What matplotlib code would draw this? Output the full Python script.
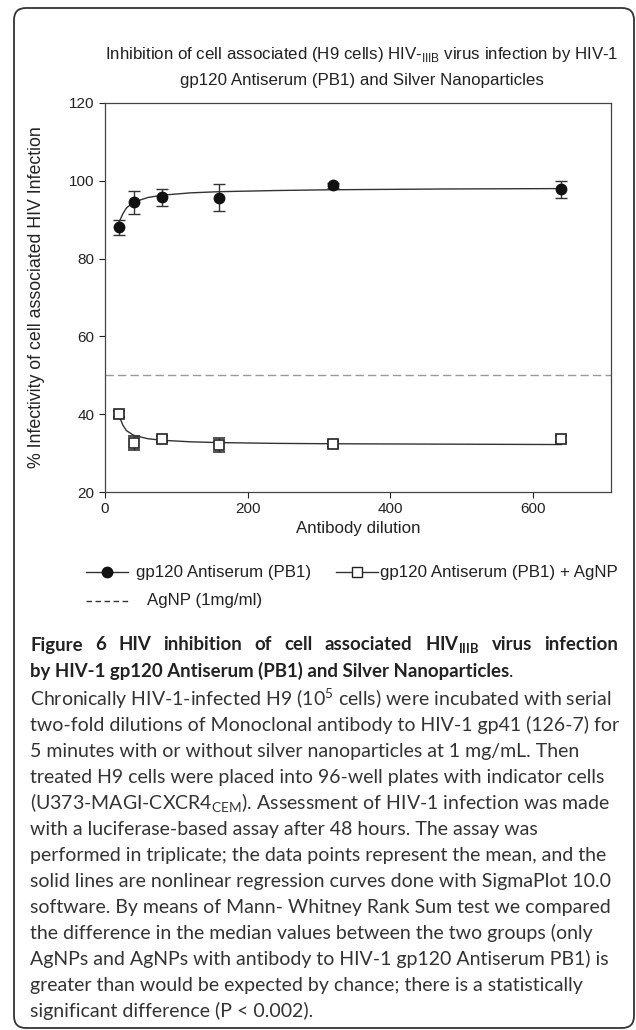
import matplotlib
matplotlib.use("Agg")
import matplotlib.pyplot as plt
from matplotlib.patches import FancyBboxPatch
from matplotlib.lines import Line2D

# data
dilution = [20, 40, 80, 160, 320, 640]
pb1 = [88.0, 94.5, 95.8, 95.7, 98.8, 97.8]
pb1_err = [2.0, 3.0, 2.2, 3.5, 0.7, 2.2]
pb1_agnp = [40.0, 32.6, 33.7, 32.0, 32.3, 33.7]
pb1_agnp_err = [0.8, 1.8, 0.8, 1.8, 0.8, 0.8]
agnp_level = 50

# regression curves
fit_x = [20, 25, 30, 40, 60, 80, 120, 160, 240, 320, 480, 640]
fit_pb1 = [89.5, 91.5, 93.0, 94.5, 95.7, 96.3, 96.9, 97.2, 97.5, 97.7, 97.9, 98.0]
fit_agnp = [39.5, 37.2, 35.8, 34.6, 33.7, 33.3, 32.9, 32.7, 32.5, 32.4, 32.3, 32.2]

legend_labels = ['gp120 Antiserum (PB1)', 'gp120 Antiserum (PB1) + AgNP', 'AgNP (1mg/ml)']

plt.rcParams['font.family'] = ['Liberation Sans', 'DejaVu Sans']

W, H = 636, 1030
fig = plt.figure(figsize=(W / 100, H / 100), dpi=100)

def fx(x):
    return x / W

def fy(y):
    return 1 - y / H

# frame around the whole figure
box = FancyBboxPatch((0.14, 0.02), 6.20, 10.20, boxstyle="round,pad=0,rounding_size=0.12",
                     transform=fig.dpi_scale_trans, fill=False, edgecolor='#333333', lw=1.3)
fig.patches.append(box)

ax = fig.add_axes([fx(105), fy(492), fx(611) - fx(105), (492 - 103) / H])
ax.plot(fit_x, fit_pb1, color='#333333', lw=1.0)
ax.plot(fit_x, fit_agnp, color='#333333', lw=1.0)
ax.errorbar(dilution, pb1, yerr=pb1_err, fmt='o', color='#111111', ms=7.5,
            ecolor='#333333', elinewidth=1, capsize=4, capthick=1)
ax.errorbar(dilution, pb1_agnp, yerr=pb1_agnp_err, fmt='s', mfc='white', mec='#222222',
            mew=1.2, ms=6.5, ecolor='#333333', elinewidth=1, capsize=4, capthick=1)
ax.axhline(agnp_level, color='#999999', lw=1, ls=(0, (6, 3)))

ax.set_xlim(0, 710)
ax.set_ylim(20, 120)
ax.set_xticks([0, 200, 400, 600])
ax.set_yticks([20, 40, 60, 80, 100, 120])
ax.tick_params(direction='out', length=4, labelsize=11, colors='#222222')
for s in ax.spines.values():
    s.set_color('#444444')
    s.set_linewidth(0.9)
ax.set_xlabel('Antibody dilution', fontsize=12.2, color='#222222')
ax.xaxis.set_label_coords(0.5, -0.075)
ax.set_ylabel('% Infectivity of cell associated HIV Infection', fontsize=12.8, color='#222222')
ax.yaxis.set_label_coords(-0.119, 0.5)

fig.text(fx(362), fy(55), r'Inhibition of cell associated (H9 cells) HIV-$_{\mathregular{IIIB}}$ virus infection by HIV-1',
         ha='center', va='center', fontsize=12.2, color='#222222')
fig.text(fx(362), fy(81), 'gp120 Antiserum (PB1) and Silver Nanoparticles',
         ha='center', va='center', fontsize=12.2, color='#222222')

# legend, drawn by hand to follow the original spacing
def handle(x0, x1, y, **kw):
    ln = Line2D([fx(x0), fx((x0 + x1) / 2), fx(x1)], [fy(y)] * 3, transform=fig.transFigure,
                markevery=[1], **kw)
    fig.add_artist(ln)

handle(86, 128, 572, color='#333333', lw=1, marker='o', mfc='#111111', mec='#111111', ms=7.5)
fig.text(fx(136), fy(572), legend_labels[0], va='center', fontsize=12.2, color='#222222')
handle(336, 378, 572, color='#333333', lw=1, marker='s', mfc='white', mec='#222222', ms=6.5)
fig.text(fx(380), fy(572), legend_labels[1], va='center', fontsize=12.2, color='#222222')
handle(86, 128, 601, color='#333333', lw=1, ls=(0, (4, 2.5)))
fig.text(fx(147), fy(601), legend_labels[2], va='center', fontsize=12.2, color='#222222')

# caption
cap_font = ['Lato', 'DejaVu Sans']
fig.canvas.draw()
rend = fig.canvas.get_renderer()

# first bold line runs out to the right margin
words = ['Figure', '6', 'HIV', 'inhibition', 'of', 'cell', 'associated',
         r'HIV$_{\mathregular{IIIB}}$', 'virus', 'infection']
objs = [fig.text(0, fy(645), w, family=cap_font, weight='bold', fontsize=13.4,
                 va='center', color='#222222') for w in words]
widths = [o.get_window_extent(rend).width for o in objs]
gap = (618 - 30 - sum(widths)) / (len(words) - 1)
xpos = 30
for o, w in zip(objs, widths):
    o.set_x(fx(xpos))
    xpos += w + gap

t2 = fig.text(fx(30), fy(671), 'by HIV-1 gp120 Antiserum (PB1) and Silver Nanoparticles',
              family=cap_font, weight='bold', fontsize=13.4, va='center', color='#222222')
ax.annotate('.', xy=(1, 0), xycoords=t2, va='bottom', ha='left', family=cap_font,
            fontsize=13.4, color='#222222', annotation_clip=False)

body = [
    r'Chronically HIV-1-infected H9 (10$^{\mathregular{5}}$ cells) were incubated with serial',
    'two-fold dilutions of Monoclonal antibody to HIV-1 gp41 (126-7) for',
    '5 minutes with or without silver nanoparticles at 1 mg/mL. Then',
    'treated H9 cells were placed into 96-well plates with indicator cells',
    r'(U373-MAGI-CXCR4$_{\mathregular{CEM}}$). Assessment of HIV-1 infection was made',
    'with a luciferase-based assay after 48 hours. The assay was',
    'performed in triplicate; the data points represent the mean, and the',
    'solid lines are nonlinear regression curves done with SigmaPlot 10.0',
    'software. By means of Mann- Whitney Rank Sum test we compared',
    'the difference in the median values between the two groups (only',
    'AgNPs and AgNPs with antibody to HIV-1 gp120 Antiserum PB1) is',
    'greater than would be expected by chance; there is a statistically',
    'significant difference (P < 0.002).',
]
for i, line in enumerate(body):
    fig.text(fx(30), fy(699 + 26 * i), line, family=cap_font, fontsize=14.0,
             va='center', color='#333333')

fig.savefig('out.png', dpi=100)
